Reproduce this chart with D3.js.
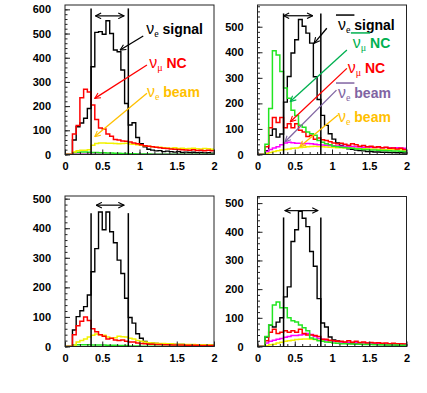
<!DOCTYPE html>
<html>
<head>
<meta charset="utf-8">
<script src="https://cdn.jsdelivr.net/npm/d3@7"></script>
<style>
body { margin: 0; background: #fff; }
svg text { font-family: "Liberation Sans", Arial, sans-serif; }
</style>
</head>
<body>
<svg id="chart" width="427" height="393"></svg>
<script>
// Energy histograms, 40 bins of 0.05 from 0 to 2

var binWidth = 0.05;
var cutEdges = [0.35, 0.85];
var xTicks = [0, 0.5, 1, 1.5, 2];

// top left: nu_e signal
var sigTL   = [0,0,60,115,130,150,190,363,505,508,497,553,500,432,425,349,211,122,131,70,45,32,22,18,15,16,12,14,12,10,12,8,10,8,9,7,8,6,7,5];
var ncTL    = [0,0,85,120,235,270,258,205,145,110,105,85,75,62,60,56,55,52,48,44,40,36,34,32,30,28,26,25,23,22,21,20,19,18,20,17,18,16,18,15];
var beamTL  = [0,0,10,15,18,18,20,38,45,48,48,47,46,45,44,45,46,43,42,40,38,36,34,32,30,30,28,27,26,28,25,26,24,25,26,24,23,25,24,22];
var greenTL = [0,0,8,9,10,10,9,8,8,7,7,6,6,5,5,4,4,3,3,2,2,2,2,1,1,1,1,1,1,1,1,1,1,1,1,1,1,1,1,1];
var magTL   = [0,0,1,1,1,1,1,1,1,1,1,1,1,1,1,1,1,1,1,1,1,1,1,1,1,1,1,1,1,1,1,1,1,1,1,1,1,1,1,1];
var yTicksTL = [0, 100, 200, 300, 400, 500, 600];

// top right: anti-nu_e signal
var sigTR   = [0,0,15,75,100,68,80,205,305,397,449,528,502,475,436,304,215,153,114,81,60,45,35,28,22,20,17,15,14,12,12,10,10,9,9,8,8,7,7,6];
var barNcTR = [0,0,40,180,406,389,325,260,220,173,153,114,107,88,81,75,55,48,42,38,32,30,28,27,25,24,22,22,20,20,18,18,17,16,16,15,14,14,13,12];
var ncTR    = [0,0,30,105,145,125,145,105,120,105,120,95,88,70,75,60,65,58,55,50,45,42,44,40,36,42,38,32,35,30,32,28,30,26,28,24,25,22,24,20];
var barBeamTR = [0,0,12,20,25,30,38,45,48,46,44,44,42,43,42,40,38,37,36,35,34,33,32,32,30,31,30,29,28,29,28,27,28,26,27,26,25,26,25,24];
var beamTR  = [0,0,5,8,12,15,18,20,22,24,25,27,28,30,31,32,31,30,29,28,27,26,26,25,25,24,24,23,23,22,22,22,21,21,20,20,20,19,19,18];
var yTicksTR = [0, 100, 200, 300, 400, 500];

// bottom left
var sigBL   = [0,0,56,101,121,135,174,253,331,455,395,455,388,351,292,247,163,98,79,43,28,17,12,11,10,9,9,8,8,7,7,7,6,6,6,5,5,5,5,4];
var ncBL    = [0,0,40,70,85,100,88,60,50,40,35,25,28,22,20,22,18,15,15,12,10,9,8,8,7,7,6,6,5,5,5,5,4,4,4,4,3,3,3,3];
var beamBL  = [0,0,5,15,20,25,32,38,42,40,38,32,28,30,35,33,32,28,25,20,18,15,13,12,11,10,10,9,9,8,8,8,7,7,7,6,6,6,6,5];
var greenBL = [0,0,5,6,6,6,6,5,5,5,5,4,4,4,3,3,3,2,2,2,1,1,1,1,1,1,1,1,1,1,1,1,1,1,1,1,1,1,1,1];
var yTicksBL = [0, 100, 200, 300, 400, 500];

// bottom right
var sigBR   = [0,0,33,74,68,85,100,173,208,366,407,471,447,418,331,280,167,82,68,33,23,20,15,12,12,10,10,9,9,8,8,8,7,7,6,6,6,5,5,5];
var barNcBR = [0,0,35,75,145,155,135,135,100,90,85,75,65,55,30,25,20,18,16,15,12,11,10,10,9,9,8,8,7,7,7,6,6,6,5,5,5,5,4,4];
var ncBR    = [0,0,20,50,60,45,50,55,50,55,50,60,45,40,40,38,35,25,25,22,20,18,18,16,20,15,18,14,16,12,14,12,13,11,12,10,11,10,10,9];
var barBeamBR = [0,0,12,18,22,25,28,32,35,38,38,40,42,45,42,35,28,25,22,20,18,17,16,15,15,14,14,13,13,12,12,11,11,10,10,10,9,9,9,8];
var beamBR  = [0,0,3,6,8,12,15,18,20,22,24,25,26,26,25,24,22,21,20,19,18,17,16,15,14,14,13,13,12,12,11,11,10,10,10,9,9,9,8,8];
var yTicksBR = [0, 100, 200, 300, 400, 500];

var BLACK = "#000", RED = "#ff0000", YELLOW = "#f2f200", GREEN = "#22e622", MAGENTA = "#ff00ff";
var ORANGE = "#ffc000", DKGREEN = "#00b050", PURPLE = "#8064a2";

var panels = [
  {left: 65, top: 5, bottom: 154.5, yMax: 618, yTicks: yTicksTL,
   hists: [[sigTL, BLACK], [magTL, "#a000a0"], [greenTL, GREEN], [beamTL, YELLOW], [ncTL, RED]],
   win: [0.41, 0.79, 573], cutTop: 604,
   labels: [
     {x: 1.09, y: 498, color: BLACK, sub: "e", word: "signal"},
     {x: 1.13, y: 358, color: RED, sub: "\u03bc", word: "NC"},
     {x: 1.10, y: 238, color: ORANGE, sub: "e", word: "beam"}],
   arrows: [
     [1.05, 490, 0.74, 432, BLACK],
     [1.10, 370, 0.40, 232, RED],
     [1.10, 253, 0.40, 74, ORANGE]]},
  {left: 257.5, top: 5, bottom: 154.5, yMax: 585, yTicks: yTicksTR,
   hists: [[sigTR, BLACK], [beamTR, YELLOW], [barBeamTR, MAGENTA], [ncTR, RED], [barNcTR, GREEN]],
   win: [0.35, 0.74, 543], cutTop: 552,
   labels: [
     {x: 1.08, y: 487, color: BLACK, sub: "e", word: "signal", bar: true},
     {x: 1.28, y: 417, color: DKGREEN, sub: "\u03bc", word: "NC", bar: true},
     {x: 1.21, y: 319, color: RED, sub: "\u03bc", word: "NC"},
     {x: 1.08, y: 221, color: PURPLE, sub: "e", word: "beam", bar: true},
     {x: 1.08, y: 127, color: ORANGE, sub: "e", word: "beam"}],
   arrows: [
     [0.93, 494, 0.76, 435, BLACK],
     [1.20, 409, 0.44, 207, DKGREEN],
     [1.20, 337, 0.44, 128, RED],
     [1.06, 252, 0.37, 50, PURPLE],
     [1.08, 155, 0.57, 31, ORANGE]]},
  {left: 65, top: 196, bottom: 346.5, yMax: 509, yTicks: yTicksBL,
   hists: [[sigBL, BLACK], [greenBL, GREEN], [beamBL, YELLOW], [ncBL, RED]],
   win: [0.42, 0.79, 478], cutTop: 451, labels: [], arrows: []},
  {left: 257.5, top: 196.5, bottom: 346.5, yMax: 523, yTicks: yTicksBR,
   hists: [[sigBR, BLACK], [beamBR, YELLOW], [barBeamBR, MAGENTA], [ncBR, RED], [barNcBR, GREEN]],
   win: [0.37, 0.81, 474], cutTop: 450, labels: [], arrows: []}
];

var svg = d3.select("#chart");
var defs = svg.append("defs");

var markerColors = [BLACK, RED, ORANGE, DKGREEN, PURPLE];
markerColors.forEach(function (c, i) {
  defs.append("marker")
    .attr("id", "head" + i)
    .attr("viewBox", "0 0 10 10")
    .attr("refX", 9).attr("refY", 5)
    .attr("markerWidth", 7).attr("markerHeight", 7)
    .attr("markerUnits", "userSpaceOnUse")
    .attr("orient", "auto-start-reverse")
    .append("path")
    .attr("d", "M1,1 L9,5 L1,9")
    .attr("fill", "none")
    .attr("stroke", c)
    .attr("stroke-width", 1.6);
});
function headFor(c) { return "url(#head" + markerColors.indexOf(c) + ")"; }

panels.forEach(function (p, pi) {
  var width = 149;
  var x = d3.scaleLinear().domain([0, 2]).range([p.left, p.left + width]);
  var y = d3.scaleLinear().domain([0, p.yMax]).range([p.bottom, p.top]);
  var g = svg.append("g");

  defs.append("clipPath").attr("id", "clip" + pi)
    .append("rect")
    .attr("x", p.left).attr("y", p.top)
    .attr("width", width).attr("height", p.bottom - p.top);

  // histograms as step lines
  var line = d3.line()
    .x(function (d) { return x(d[0]); })
    .y(function (d) { return y(d[1]); })
    .curve(d3.curveStepAfter);

  var hg = g.append("g").attr("clip-path", "url(#clip" + pi + ")");
  p.hists.forEach(function (h) {
    var vals = h[0];
    var pts = vals.map(function (v, i) { return [i * binWidth, v]; });
    pts.push([vals.length * binWidth, vals[vals.length - 1]]);
    hg.append("path")
      .attr("d", line(pts))
      .attr("fill", "none")
      .attr("stroke", h[1])
      .attr("stroke-width", h[1] === BLACK ? 1.4 : 1.5);
  });

  // frame
  g.append("rect")
    .attr("x", p.left).attr("y", p.top)
    .attr("width", width).attr("height", p.bottom - p.top)
    .attr("fill", "none").attr("stroke", "#222").attr("stroke-width", 1);

  // axes, ticks pointing into the frame
  var yAxis = g.append("g").attr("transform", "translate(" + p.left + ",0)")
    .call(d3.axisLeft(y).tickValues(p.yTicks).tickSize(-5).tickPadding(14)
      .tickFormat(function (d) { return String(d); }));
  var yMinor = g.append("g").attr("transform", "translate(" + p.left + ",0)")
    .call(d3.axisLeft(y).tickValues(d3.range(0, p.yMax, 20)).tickSize(-2.5).tickFormat(""));
  var xAxis = g.append("g").attr("transform", "translate(0," + p.bottom + ")")
    .call(d3.axisBottom(x).tickValues(xTicks).tickSize(-5).tickPadding(8)
      .tickFormat(function (d) { return String(d); }));
  var xMinor = g.append("g").attr("transform", "translate(0," + p.bottom + ")")
    .call(d3.axisBottom(x).tickValues(d3.range(0, 2.01, 0.1)).tickSize(-2.5).tickFormat(""));

  [yAxis, yMinor, xAxis, xMinor].forEach(function (a) {
    a.select(".domain").remove();
    a.selectAll("line").attr("stroke", "#222");
    a.selectAll("text")
      .attr("font-size", 11).attr("font-weight", "bold")
      .attr("fill", "#000").attr("font-family", "Liberation Sans, Arial, sans-serif");
  });

  // selection cuts
  cutEdges.forEach(function (c) {
    g.append("line")
      .attr("x1", x(c)).attr("x2", x(c))
      .attr("y1", y(p.cutTop)).attr("y2", p.bottom)
      .attr("stroke", BLACK).attr("stroke-width", 1.5);
  });

  // window double arrow
  g.append("line")
    .attr("x1", x(p.win[0])).attr("x2", x(p.win[1]))
    .attr("y1", y(p.win[2])).attr("y2", y(p.win[2]))
    .attr("stroke", "#111").attr("stroke-width", 1.3)
    .attr("marker-start", headFor(BLACK))
    .attr("marker-end", headFor(BLACK));

  // labels
  p.labels.forEach(function (lab) {
    var t = g.append("text")
      .attr("x", x(lab.x)).attr("y", y(lab.y))
      .attr("fill", lab.color).attr("font-size", 14);
    var nu = t.append("tspan")
      .attr("font-size", 16).text("\u03bd");
    var sub = t.append("tspan")
      .attr("font-family", "Liberation Serif, Times New Roman, serif")
      .attr("font-size", 10).attr("dy", 3).text(lab.sub);
    t.append("tspan").attr("dy", -3)
      .attr("font-weight", "bold")
      .text(" " + lab.word);
    if (lab.bar) {
      var w = nu.node().getComputedTextLength() + sub.node().getComputedTextLength();
      g.append("line")
        .attr("x1", x(lab.x) - 2).attr("x2", x(lab.x) + w + 4)
        .attr("y1", y(lab.y) - 15).attr("y2", y(lab.y) - 15)
        .attr("stroke", lab.color).attr("stroke-width", 1.5);
    }
  });

  // arrows from labels to histograms
  p.arrows.forEach(function (a) {
    g.append("line")
      .attr("x1", x(a[0])).attr("y1", y(a[1]))
      .attr("x2", x(a[2])).attr("y2", y(a[3]))
      .attr("stroke", a[4]).attr("stroke-width", 1.3)
      .attr("marker-end", headFor(a[4]));
  });
});
</script>
</body>
</html>
